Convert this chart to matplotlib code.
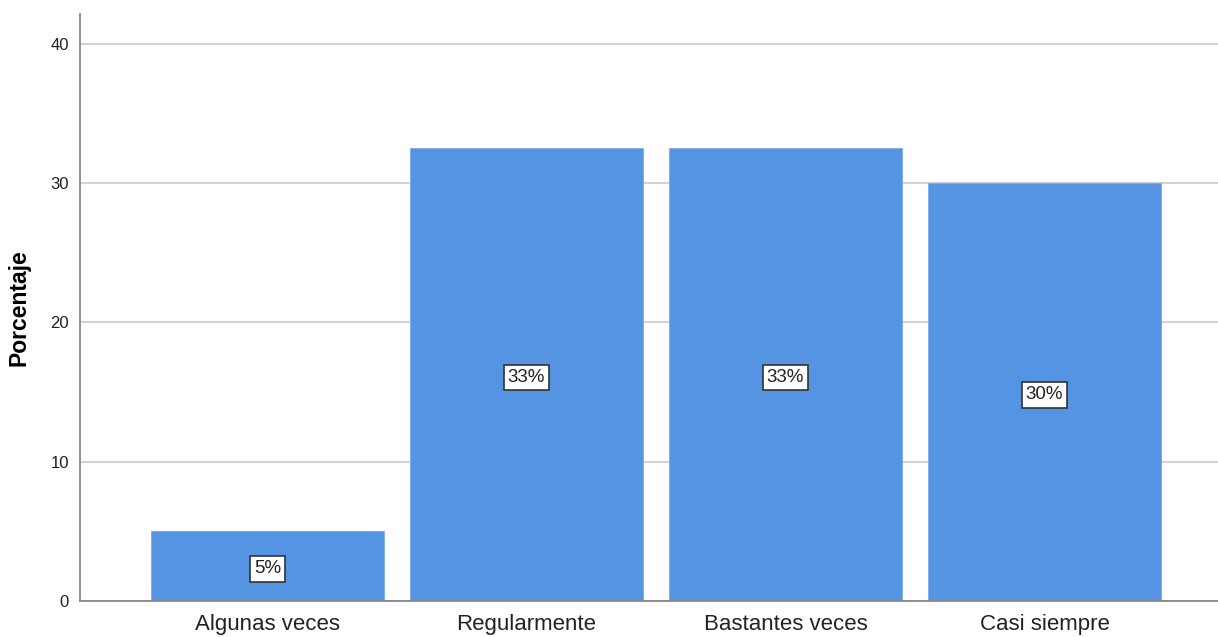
import matplotlib
matplotlib.use("Agg")
import matplotlib.pyplot as plt

categories = ["Algunas veces", "Regularmente", "Bastantes veces", "Casi siempre"]
values = [5.0, 32.5, 32.5, 30.0]
labels = ["5%", "33%", "33%", "30%"]
yticks = [0, 10, 20, 30, 40]

plt.rcParams['font.family'] = ['Liberation Sans', 'DejaVu Sans']

fig = plt.figure(figsize=(12.18, 6.37), dpi=100)
ax = fig.add_axes([0.0657, 0.0565, 0.9343, 0.9215])

x = list(range(len(categories)))
ax.set_axisbelow(True)
ax.yaxis.grid(True, color='#d3d3d3', linewidth=1.5)
bars = ax.bar(x, values, width=0.9, color='#5594E3', edgecolor='#7AABEB', linewidth=0.6)

for xi, v, lab in zip(x, values, labels):
    ax.text(xi, v / 2 - 0.2, lab, ha='center', va='center', fontsize=13.5, color='#222222',
            bbox=dict(boxstyle='square,pad=0.22', facecolor='white', edgecolor='#333333', linewidth=1.2))

ax.set_xlim(-0.724, 3.67)
ax.set_ylim(0, 42.15)
ax.set_yticks(yticks)
ax.set_xticks(x)
ax.set_xticklabels(categories, fontsize=16, color='#222222')
ax.tick_params(axis='y', length=0, labelsize=12, pad=8, colors='#222222')
ax.tick_params(axis='x', length=0, pad=9)
ax.set_ylabel('Porcentaje', fontsize=16.5, fontweight='bold', labelpad=14)

for s in ['top', 'right']:
    ax.spines[s].set_visible(False)
ax.spines['left'].set_color('#888888')
ax.spines['bottom'].set_color('#888888')
ax.spines['left'].set_linewidth(1.3)
ax.spines['bottom'].set_linewidth(1.3)

fig.savefig('out.png', dpi=100)
